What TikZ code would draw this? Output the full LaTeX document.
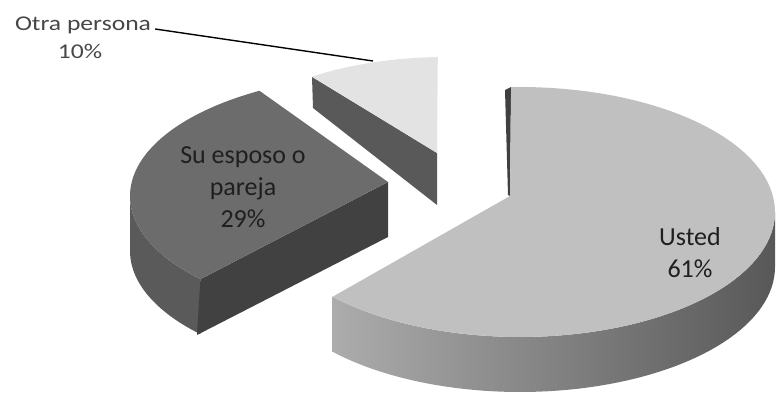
\documentclass[tikz,border=0pt]{standalone}
\usepackage{fontspec}
\setmainfont{Carlito}
\newfontfamily\widefont[FakeStretch=1.22]{Carlito}
\usepackage{tikz}
\definecolor{usttop}{HTML}{C0C0C0}
\definecolor{ustleft}{HTML}{ACACAC}
\definecolor{ustright}{HTML}{585858}
\definecolor{ustcut}{HTML}{404040}
\definecolor{esptop}{HTML}{6C6C6C}
\definecolor{espside}{HTML}{5A5A5A}
\definecolor{espcut}{HTML}{414141}
\definecolor{otratop}{HTML}{E3E3E3}
\definecolor{otracut}{HTML}{595959}
\tikzstyle{lbl}=[align=center,inner sep=0pt,text=black!88,font=\fontsize{26}{32}\selectfont]
\tikzstyle{otralbl}=[inner sep=0pt,anchor=base,text=black!72,font=\widefont\fontsize{21}{26}\selectfont]
\tikzstyle{leader}=[black,line width=1.4pt]

\begin{document}
\begin{tikzpicture}[x=1pt,y=-1pt]
                    \useasboundingbox (0,0) rectangle (776,393);
                    % side and cut faces first
                    \fill[otracut] (312,77) -- (437,153) -- (437,205) -- (313,108) -- cycle;
                    \fill[espside] plot[domain=137:180,samples=30,variable=\t] ({392+262*cos(\t)},{196+122*sin(\t)}) -- plot[domain=180:137,samples=30,variable=\t] ({392+262*cos(\t)},{251+122*sin(\t)}) -- cycle;
                    \fill[espcut] (388,182) -- (200.4,279.2) -- (197,335) -- (388,237) -- cycle;
                    \shade[left color=ustleft,right color=ustright] plot[domain=0:137.3,samples=60,variable=\t] ({520+255*cos(\t)},{212+125*sin(\t)}) -- plot[domain=137.3:0,samples=60,variable=\t] ({520+255*cos(\t)},{267+125*sin(\t)}) -- cycle;
                    \fill[ustcut] (505,90) -- (511,87) -- (510,196) -- (508,195) -- cycle;
                    % top faces: centre/radii/angles/apex/colour
                    \foreach \cx/\cy/\rx/\ry/\ta/\tb/\ax/\ay/\col in {446/167/235/110/235.3/268/437/153/otratop, 392/196/262/122/137/239.6/388/182/esptop, 520/212/255/125/268/497.3/510/196/usttop} {
                        \fill[\col] (\ax,\ay) -- plot[domain=\ta:\tb,samples=80,variable=\t] ({\cx+\rx*cos(\t)},{\cy+\ry*sin(\t)}) -- cycle;}
                    \node[lbl] (esposo) at (243,187) {Su esposo o\\pareja\\29\%};
                    \node[lbl] (usted) at (690,253) {Usted\\61\%};
                    \node[otralbl] (otraname) at (83,31) {Otra persona};
                    \node[otralbl] (otrapct) at (80,59) {10\%};
                    \coordinate (otratip) at (373,61);
                    \draw[leader] ([xshift=4pt,yshift=2pt]otraname.base east) -- (otratip);
                \end{tikzpicture}
\end{document}
